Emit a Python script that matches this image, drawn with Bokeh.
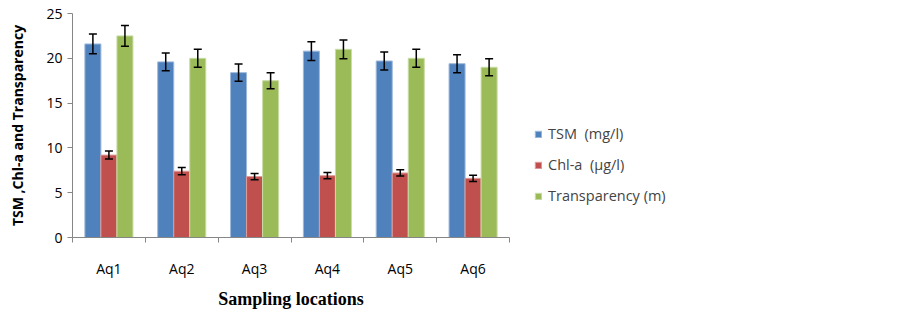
from bokeh.plotting import figure
from bokeh.models import (ColumnDataSource, Range1d, FixedTicker, Whisker, TeeHead,
                          Legend, LegendItem)
from bokeh.embed import file_html
from bokeh.resources import INLINE

categories = ["Aq1", "Aq2", "Aq3", "Aq4", "Aq5", "Aq6"]
tsm = [21.6, 19.6, 18.4, 20.8, 19.7, 19.4]
tsm_err = [1.1, 1.0, 0.95, 1.05, 1.0, 1.0]
chla = [9.2, 7.4, 6.8, 6.9, 7.2, 6.6]
chla_err = [0.45, 0.4, 0.35, 0.35, 0.35, 0.35]
transp = [22.5, 20.0, 17.5, 21.0, 20.0, 19.0]
transp_err = [1.15, 1.0, 0.9, 1.05, 1.0, 0.95]

series = [
    ("TSM  (mg/l)", tsm, tsm_err, "#4F81BD", "#9DB8DB", -0.22),
    ("Chl-a  (\u00b5g/l)", chla, chla_err, "#C0504D", "#DE9C9A", 0.0),
    ("Transparency (m)", transp, transp_err, "#9BBB59", "#C8DCA4", 0.22),
]

p = figure(frame_width=437, frame_height=224, output_backend="svg",
           toolbar_location=None,
           x_range=Range1d(0, 6), y_range=Range1d(0, 25),
           min_border_left=72, min_border_right=300, min_border_top=13,
           min_border_bottom=10)
p.outline_line_color = None
p.xgrid.visible = False
p.ygrid.visible = False

items = []
for name, vals, errs, col, edge, off in series:
    xs = [i + 0.5 + off for i in range(len(categories))]
    src = ColumnDataSource(dict(
        x=xs, top=vals,
        upper=[v + e for v, e in zip(vals, errs)],
        lower=[v - e for v, e in zip(vals, errs)]))
    r = p.vbar(x="x", top="top", width=0.22, source=src, fill_color=col,
               line_color=edge, line_width=1)
    w = Whisker(base="x", upper="upper", lower="lower", source=src,
                level="annotation", line_color="black", line_width=1.5,
                upper_head=TeeHead(size=8, line_color="black", line_width=1.5),
                lower_head=TeeHead(size=8, line_color="black", line_width=1.5))
    p.add_layout(w)
    items.append(LegendItem(label=name, renderers=[r]))

# x axis: labels at category centres, tick marks at category boundaries
centers = [i + 0.5 for i in range(len(categories))]
p.xaxis.ticker = FixedTicker(ticks=centers,
                             minor_ticks=list(range(len(categories) + 1)))
p.xaxis.major_label_overrides = {c: lab for c, lab in zip(centers, categories)}
p.xaxis.major_tick_line_color = None
p.xaxis.major_tick_out = 5
p.xaxis.major_tick_in = 0
p.xaxis.minor_tick_out = 5
p.xaxis.minor_tick_in = 0
p.xaxis.minor_tick_line_color = "#868686"
p.xaxis.axis_line_color = "#868686"
p.xaxis.major_label_standoff = 16
p.xaxis.major_label_text_font = "Open Sans"
p.xaxis.major_label_text_font_size = "14px"
p.xaxis.major_label_text_color = "black"
p.xaxis.axis_label = "Sampling locations"
p.xaxis.axis_label_text_font = "Liberation Serif"
p.xaxis.axis_label_text_font_style = "bold"
p.xaxis.axis_label_text_font_size = "18px"
p.xaxis.axis_label_text_color = "black"
p.xaxis.axis_label_standoff = 8

p.yaxis.ticker = FixedTicker(ticks=[0, 5, 10, 15, 20, 25])
p.yaxis.minor_tick_line_color = None
p.yaxis.major_tick_out = 5
p.yaxis.major_tick_in = 0
p.yaxis.major_tick_line_color = "#868686"
p.yaxis.axis_line_color = "#868686"
p.yaxis.major_label_text_font = "Open Sans"
p.yaxis.major_label_text_font_size = "14px"
p.yaxis.major_label_text_color = "black"
p.yaxis.major_label_standoff = 5
p.yaxis.axis_label = "TSM ,Chl-a and Transparency"
p.yaxis.axis_label_text_font = "Open Sans"
p.yaxis.axis_label_text_font_style = "bold"
p.yaxis.axis_label_text_font_size = "14px"
p.yaxis.axis_label_text_color = "black"
p.yaxis.axis_label_standoff = 16

legend = Legend(items=items, location=(25, 32), orientation="vertical",
                glyph_width=8, glyph_height=8, label_height=16, spacing=12,
                label_text_font="Open Sans", label_text_font_size="14.5px",
                label_standoff=6, border_line_color=None,
                background_fill_alpha=0, padding=2, margin=0)
p.add_layout(legend, "right")

open("out.html", "w").write(file_html(p, INLINE))
